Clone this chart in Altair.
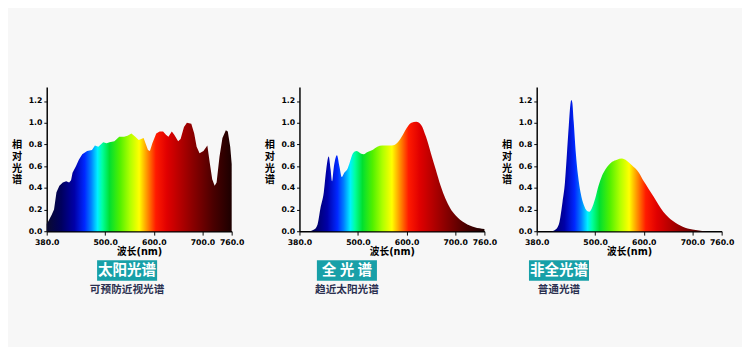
import altair as alt
import pandas as pd

# ---------------- data ----------------
sun_wl = [380, 383, 390, 395, 400, 406, 413, 420, 426, 430, 433, 440, 446, 453, 463, 473, 479, 486,
          496, 503, 509, 519, 529, 539, 546, 554, 562, 569, 579, 588, 592, 597, 605, 612, 619, 625,
          630, 637, 642, 650, 655, 662, 668, 677, 683, 688, 694, 702, 710, 715, 720, 725, 729, 735,
          741, 748, 752, 757, 760]
sun_val = [0.07, 0.09, 0.15, 0.20, 0.36, 0.42, 0.45, 0.46, 0.45, 0.47, 0.54, 0.60, 0.66, 0.71, 0.74,
           0.75, 0.79, 0.78, 0.82, 0.81, 0.82, 0.83, 0.87, 0.87, 0.88, 0.90, 0.87, 0.84, 0.86, 0.75,
           0.74, 0.81, 0.90, 0.92, 0.92, 0.89, 0.87, 0.92, 0.89, 0.83, 0.85, 0.96, 1.00, 0.99, 0.90,
           0.78, 0.72, 0.74, 0.79, 0.63, 0.48, 0.42, 0.45, 0.69, 0.86, 0.93, 0.92, 0.78, 0.62]

full_wl = [380, 400, 410, 417, 423, 430, 435, 440, 444, 447, 450, 457, 462, 467, 472, 478, 483, 490,
           497, 505, 512, 520, 530, 540, 550, 560, 570, 580, 590, 600, 610, 620, 630, 640, 650, 660,
           670, 680, 690, 700, 720, 740, 760]
full_val = [0.0, 0.0, 0.015, 0.06, 0.21, 0.36, 0.57, 0.69, 0.57, 0.46, 0.57, 0.70, 0.60, 0.50, 0.54,
            0.57, 0.63, 0.72, 0.74, 0.72, 0.71, 0.73, 0.75, 0.78, 0.79, 0.79, 0.79, 0.81, 0.87, 0.95,
            1.00, 1.01, 0.98, 0.87, 0.72, 0.57, 0.42, 0.30, 0.21, 0.15, 0.075, 0.036, 0.02]

led_wl = [380, 410, 420, 427, 433, 438, 442, 446, 449, 451, 453, 456, 460, 465, 470, 477, 483, 488,
          493, 500, 507, 514, 521, 528, 535, 545, 555, 565, 575, 590, 600, 610, 620, 640, 660, 680,
          700, 720, 740, 760]
led_val = [0.0, 0.0, 0.02, 0.09, 0.27, 0.45, 0.71, 0.98, 1.16, 1.21, 1.19, 1.01, 0.74, 0.51, 0.36,
           0.24, 0.19, 0.18, 0.21, 0.30, 0.42, 0.51, 0.57, 0.61, 0.64, 0.66, 0.67, 0.65, 0.61, 0.54,
           0.46, 0.39, 0.32, 0.18, 0.094, 0.041, 0.015, 0.003, 0.0, 0.0]

badges = ["太阳光谱", "全 光 谱", "非全光谱"]
captions = ["可预防近视光谱", "趋近太阳光谱", "普通光谱"]

x_ticks = [380, 500, 600, 700, 760]
y_ticks = [0.0, 0.2, 0.4, 0.6, 0.8, 1.0, 1.2]

# ---------------- style ----------------
FONT = "DejaVu Sans, Noto Sans CJK SC"
CJK = "Noto Sans CJK SC"
TEAL = "#18a0a8"

spectrum_stops = [
    (0.000, "#0a0a2e"),
    (0.079, "#00005e"),
    (0.150, "#0000a8"),
    (0.205, "#0028ff"),
    (0.240, "#0080ff"),
    (0.275, "#00f0ff"),
    (0.300, "#00ffa0"),
    (0.340, "#00e030"),
    (0.395, "#50f000"),
    (0.450, "#b0ff00"),
    (0.500, "#ffff00"),
    (0.540, "#ff9800"),
    (0.590, "#ff1a00"),
    (0.650, "#e00000"),
    (0.790, "#8a0000"),
    (0.900, "#4a0000"),
    (1.000, "#1c0000"),
]
grad = alt.Gradient(
    gradient="linear",
    stops=[alt.GradientStop(color=c, offset=o) for o, c in spectrum_stops],
    x1=0, x2=1, y1=0, y2=0,
)

W, H = 191, 149


def panel(wl, val, badge, caption, cx, interp):
    df = pd.DataFrame({"wl": wl, "v": val})
    area = alt.Chart(df).mark_area(color=grad, interpolate=interp).encode(
        x=alt.X(
            "wl:Q",
            scale=alt.Scale(domain=[380, 760], nice=False, zero=False),
            axis=alt.Axis(values=x_ticks, format=".1f", title="波长(nm)", titlePadding=0,
                          titleFontSize=10, labelPadding=4, tickSize=4, labelFlush=False),
        ),
        y=alt.Y(
            "v:Q",
            scale=alt.Scale(domain=[0, 1.33], nice=False),
            axis=alt.Axis(values=y_ticks, format=".1f", title=["相", "对", "光", "谱"],
                          titleAngle=0, titleAlign="center", titleBaseline="middle",
                          titleX=-31, titleY=60, titleFontSize=10.5, titleLineHeight=12,
                          labelPadding=2, tickSize=3),
        ),
    )
    lab = pd.DataFrame({"b": [badge], "c": [caption]})
    box = alt.Chart(lab).mark_rect(color=TEAL).encode(
        x=alt.value(cx - 31), x2=alt.value(cx + 31), y=alt.value(179), y2=alt.value(200)
    )
    btxt = alt.Chart(lab).mark_text(
        color="white", fontSize=15, fontWeight="bold", font=CJK, baseline="middle", align="center"
    ).encode(x=alt.value(cx), y=alt.value(189.5), text="b:N")
    ctxt = alt.Chart(lab).mark_text(
        color="#2b3050", fontSize=11, fontWeight="bold", font=CJK, baseline="middle", align="center"
    ).encode(x=alt.value(cx), y=alt.value(210), text="c:N")
    return alt.layer(area, box, btxt, ctxt).properties(width=W, height=H)


p1 = panel(sun_wl, sun_val, badges[0], captions[0], 83, "linear")
p2 = panel(full_wl, full_val, badges[1], captions[1], 49, "monotone")
p3 = panel(led_wl, led_val, badges[2], captions[2], 23, "monotone")

chart = alt.hconcat(alt.hconcat(p1, p2, spacing=20), p3, spacing=4).properties(
    padding={"left": 3, "top": 76, "right": 8, "bottom": 48},
    background="#f7f7f7",
).configure_view(stroke=None).configure_axis(
    grid=False,
    domainColor="black",
    domainWidth=1.5,
    tickColor="black",
    tickWidth=1,
    labelColor="black",
    labelFont=FONT,
    labelFontSize=8,
    labelFontWeight="bold",
    titleColor="black",
    titleFont=FONT,
    titleFontWeight="bold",
).configure_concat(spacing=10)

chart.save("out.html", embed_options={"renderer": "svg", "actions": False})
